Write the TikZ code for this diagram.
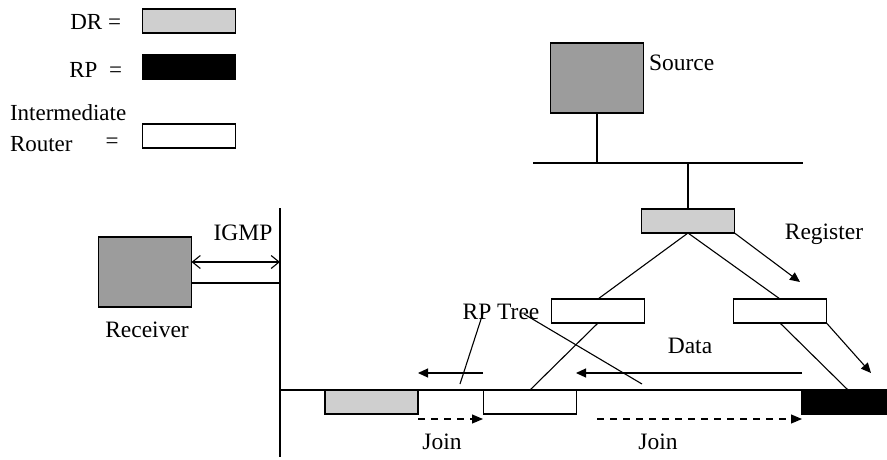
\documentclass[tikz,border=0pt]{standalone}
\usepackage{fontspec}
\setmainfont{Liberation Serif}
\usetikzlibrary{arrows.meta}
\definecolor{drgray}{HTML}{CFCFCF}
\definecolor{hostgray}{HTML}{9C9C9C}
\begin{document}
\begin{tikzpicture}[x=1pt,y=-1pt,
  line width=1.1pt,
  every node/.style={inner sep=0pt, outer sep=0pt, font=\fontsize{23.5}{27}\selectfont},
  box/.style={draw, minimum width=93pt, minimum height=24pt},
  drbox/.style={box, fill=drgray},
  rpbox/.style={box, fill=black},
  irbox/.style={box, fill=white},
  hostbox/.style={draw, fill=hostgray, minimum width=93pt, minimum height=70pt},
  lbl/.style={font=\fontsize{23.5}{27}\selectfont},
  legend/.style={font=\fontsize{23}{26}\selectfont},
  arr/.style={-{Triangle[length=10pt,width=9pt]}},
  darr/.style={-{Triangle[length=11pt,width=9pt]}, dash pattern=on 7pt off 6pt},
  barb/.style={{Straight Barb[length=8pt,width=13pt]}-{Straight Barb[length=8pt,width=13pt]}}
]
\useasboundingbox (0,0) rectangle (887,459);

% legend
\node[drbox] (legDR) at (189,21) {};
\node[rpbox] (legRP) at (189,67) {};
\node[irbox] (legIR) at (189,136) {};
\node[legend, anchor=east] (tDR) at (121,22) {DR =};
\node[legend, anchor=east] (tRP) at (122,70) {RP \ =};
\node[legend, anchor=west] (tInt) at (10,113) {Intermediate};
\node[legend, anchor=west] (tRouter) at (10,144) {Router};
\node[legend] (tEq) at (112,143) {=};

% source side
\node[hostbox] (src) at (597,78) {};
\node[lbl, anchor=west] (tSrc) at (649,63) {Source};
\coordinate (busL) at (533,163);
\coordinate (busR) at (803,163);
\coordinate (busS) at (597,163);
\coordinate (busD) at (688,163);
\draw (busL) -- (busR);
\draw (src.south) -- (busS);
\node[drbox] (dr) at (688,221) {};
\draw (busD) -- (dr.north);

\node[irbox] (lr) at (598,311) {};
\node[irbox] (rr) at (780,311) {};
\draw (dr.south) -- (lr.north);
\draw (dr.south) -- (rr.north);

% register arrows
\coordinate (reg1e) at (800,282);
\draw[arr] (dr.south east) -- (reg1e);
\coordinate (reg2e) at (871,373);
\draw[arr] (rr.south east) -- (reg2e);
\node[lbl] (tReg) at (824,234) {Register};

% bottom LAN
\coordinate (lanL) at (280,390);
\coordinate (lanR) at (887,390);
\draw (lanL) -- (lanR);
\coordinate (vTop) at (280,208);
\coordinate (vBot) at (280,457);
\draw (vTop) -- (vBot);

\node[drbox] (bdr) at (371.5,402) {};
\node[irbox] (ir) at (530,402) {};
\node[rpbox, minimum width=85pt] (rp) at (844.5,402) {};

\draw (lr.south) -- (ir.north);
\coordinate (rpTop) at (848,390);
\draw (rr.south) -- (rpTop);

% receiver
\node[hostbox] (rcv) at (145,272) {};
\node[lbl] (tRcv) at (147,330) {Receiver};
\coordinate (igmpE) at (280,262);
\draw[barb] (rcv.east |- igmpE) -- (igmpE);
\coordinate (rcvL) at (280,283);
\draw (rcv.east |- rcvL) -- (rcvL);
\node[lbl] (tIGMP) at (243,233) {IGMP};

% RP tree
\node[lbl] (tRPT) at (501,312) {RP Tree};
\coordinate (rpt1a) at (483,313);
\coordinate (rpt1b) at (460,384);
\draw (rpt1a) -- (rpt1b);
\coordinate (rpt2a) at (524,314);
\coordinate (rpt2b) at (642,384);
\draw (rpt2a) -- (rpt2b);

% data arrows
\coordinate (d1s) at (483,373);
\coordinate (d1e) at (418,373);
\draw[arr] (d1s) -- (d1e);
\coordinate (d2s) at (802,373);
\coordinate (d2e) at (576,373);
\draw[arr] (d2s) -- (d2e);
\node[lbl] (tData) at (690,346) {Data};

% join arrows
\coordinate (j1s) at (418,419);
\coordinate (j1e) at (483,419);
\draw[darr] (j1s) -- (j1e);
\coordinate (j2s) at (597,419);
\coordinate (j2e) at (802,419);
\draw[darr] (j2s) -- (j2e);
\node[lbl] (tJoin1) at (442,442) {Join};
\node[lbl] (tJoin2) at (658,442) {Join};
\end{tikzpicture}
\end{document}
